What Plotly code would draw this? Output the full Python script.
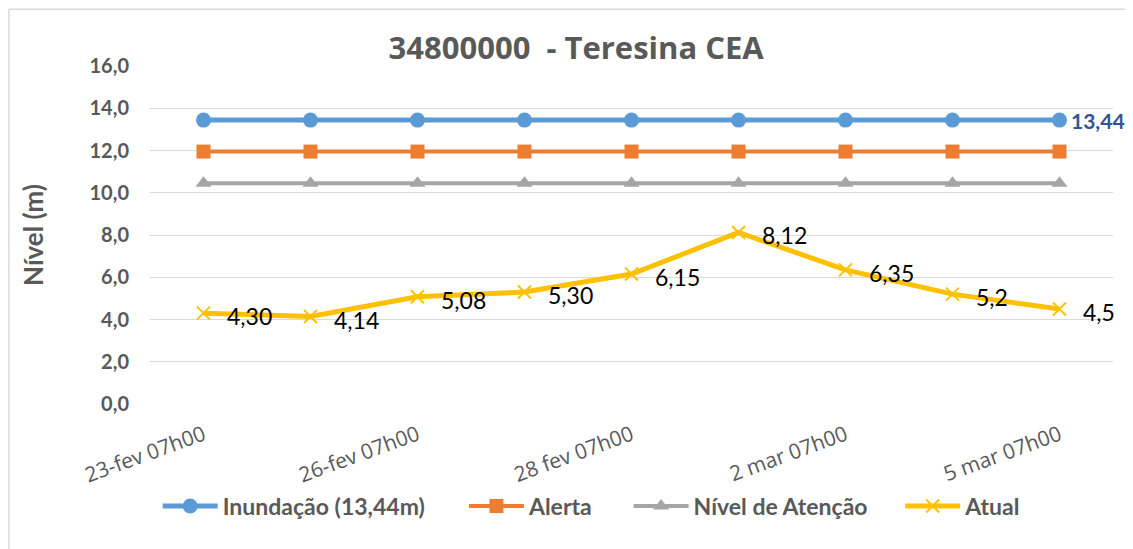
import plotly.graph_objects as go

categories = ["23-fev 07h00", "25-fev 07h00", "26-fev 07h00", "27-fev 07h00",
              "28 fev 07h00", "1 mar 07h00", "2 mar 07h00", "3 mar 07h00", "5 mar 07h00"]
shown_ticks = ["23-fev 07h00", "26-fev 07h00", "28 fev 07h00", "2 mar 07h00", "5 mar 07h00"]
inundacao = [13.44] * 9
alerta = [11.95] * 9
atencao = [10.45] * 9
atual = [4.30, 4.14, 5.08, 5.30, 6.15, 8.12, 6.35, 5.2, 4.5]
atual_labels = ["4,30", "4,14", "5,08", "5,30", "6,15", "8,12", "6,35", "5,2", "4,5"]
y_ticks = [0, 2, 4, 6, 8, 10, 12, 14, 16]
y_ticktext = ["0,0", "2,0", "4,0", "6,0", "8,0", "10,0", "12,0", "14,0", "16,0"]

GRAY = "#595959"
fig = go.Figure()
fig.add_trace(go.Scatter(x=categories, y=inundacao, name="Inundação (13,44m)", mode="lines+markers",
                         line=dict(color="#5B9BD5", width=5), legend="legend",
                         marker=dict(symbol="circle", size=15, color="#5B9BD5")))
fig.add_trace(go.Scatter(x=categories, y=alerta, name="Alerta", mode="lines+markers",
                         line=dict(color="#ED7D31", width=4), legend="legend2",
                         marker=dict(symbol="square", size=14, color="#ED7D31")))
fig.add_trace(go.Scatter(x=categories, y=atencao, name="Nível de Atenção", mode="lines+markers",
                         line=dict(color="#A5A5A5", width=4), legend="legend3",
                         marker=dict(symbol="triangle-up", size=14, color="#A5A5A5")))
fig.add_trace(go.Scatter(x=categories, y=atual, name="Atual", mode="lines+markers",
                         line=dict(color="#FFC000", width=5), legend="legend4",
                         marker=dict(symbol="x-thin", size=13, line=dict(color="#FFC000", width=2))))

for c, v, t in zip(categories, atual, atual_labels):
    fig.add_annotation(x=c, y=v, text=t, showarrow=False, xanchor="left", yanchor="middle",
                       xshift=21, yshift=-3, font=dict(family="Lato", size=23, color="#000000"))

fig.add_annotation(x=categories[-1], y=inundacao[-1], text="<b>13,44</b>", showarrow=False,
                   xanchor="left", yanchor="middle", xshift=9,
                   font=dict(family="Lato", size=21, color="#2F5597"))

# chart border (left and top)
fig.add_shape(type="line", xref="paper", yref="paper", x0=-0.1465, x1=1.03, y0=1.168, y1=1.168,
              line=dict(color="#D9D9D9", width=1.5))
fig.add_shape(type="line", xref="paper", yref="paper", x0=-0.1465, x1=-0.1465, y0=1.168, y1=-0.45,
              line=dict(color="#D9D9D9", width=1.5))

legend_font = dict(family="Lato", size=23, color=GRAY, weight="bold")
def leg(x):
    return dict(orientation="h", x=x, xanchor="left", y=-0.302, yanchor="middle",
                font=legend_font, bgcolor="rgba(0,0,0,0)", itemwidth=55)

fig.update_layout(
    width=1125, height=541,
    margin=dict(l=142, r=20, t=58, b=145),
    paper_bgcolor="white", plot_bgcolor="white",
    title=dict(text="<b>34800000  - Teresina CEA</b>", x=0.505, xanchor="center", y=0.926, yanchor="middle",
               font=dict(family="Open Sans", size=31, color=GRAY)),
    xaxis=dict(type="category", tickvals=shown_ticks, ticktext=shown_ticks, tickangle=-20,
               showgrid=False, showline=False, ticks="", range=[-0.5, 8.5],
               ticklabelstandoff=14,
               tickfont=dict(family="Open Sans", size=21, color=GRAY)),
    yaxis=dict(range=[0, 16], tickvals=y_ticks, ticktext=y_ticktext, showgrid=True,
               gridcolor="#D9D9D9", gridwidth=1, zeroline=False, showline=False, ticks="",
               ticklabelstandoff=20,
               tickfont=dict(family="Lato", size=20, color=GRAY, weight="bold"),
               title=dict(text="<b>Nível (m)</b>", standoff=38,
                          font=dict(family="Lato", size=26, color=GRAY))),
    legend=leg(0.008),
    legend2=leg(0.326),
    legend3=leg(0.497),
    legend4=leg(0.779),
    showlegend=True,
)
fig.write_html("out.html")
